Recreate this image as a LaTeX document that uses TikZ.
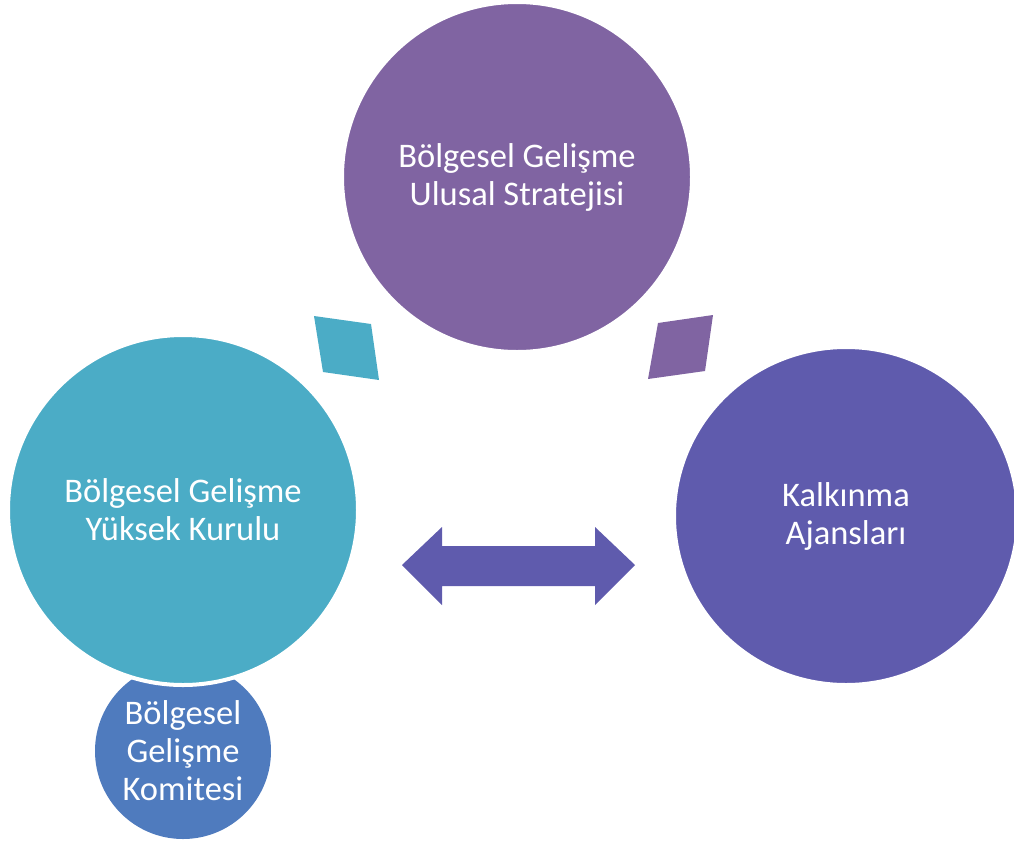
\documentclass[tikz,border=0pt]{standalone}
\usepackage{fontspec}
\setmainfont{Carlito}
\usetikzlibrary{positioning, shapes.geometric}
\definecolor{stratPurple}{RGB}{128,100,162}
\definecolor{boardTeal}{RGB}{75,172,198}
\definecolor{agencyViolet}{RGB}{95,91,173}
\definecolor{committeeBlue}{RGB}{79,123,190}
\tikzset{
    body/.style = {
      circle, inner sep=0, align=center, text=white,
      font=\fontsize{34.5}{38}\selectfont,
    },
    outlined body/.style = {
      body, draw=white, line width=4pt,
    },
    link shape/.style = {
      draw=none,
    },
}

\begin{document}
\begin{tikzpicture}[x=1pt, y=-1pt]
    \useasboundingbox (0,0) rectangle (1014,844);

    %% Committee sits under the high board
    \node [body, fill=committeeBlue, minimum size=176pt] (committee) at (183,751)
      {Bölgesel\\Gelişme\\Komitesi};

    %% The three main bodies
    \node [outlined body, fill=stratPurple, minimum size=350pt] (strategy) at (517,177)
      {Bölgesel Gelişme\\Ulusal Stratejisi};
    \node [outlined body, fill=boardTeal, minimum size=350pt] (board) at (183,510)
      {Bölgesel Gelişme\\Yüksek Kurulu};
    \node [outlined body, ellipse, fill=agencyViolet, minimum width=344pt, minimum height=338pt]
      (agency) at (846,516) {Kalkınma\\Ajansları};

    %% Small links between the circles
    \fill [link shape, boardTeal] (314,316) -- (371,324) -- (379,380) -- (323,372) -- cycle;
    \fill [link shape, stratPurple] (658,323) -- (713,315) -- (705,371) -- (648,379) -- cycle;

    %% Two-way arrow between board and agencies
    \fill [link shape, agencyViolet] (402,565) -- (442,527) -- (442,546) -- (595,546)
      -- (595,527) -- (635,565) -- (595,605) -- (595,586) -- (442,586) -- (442,605) -- cycle;
  \end{tikzpicture}
\end{document}
